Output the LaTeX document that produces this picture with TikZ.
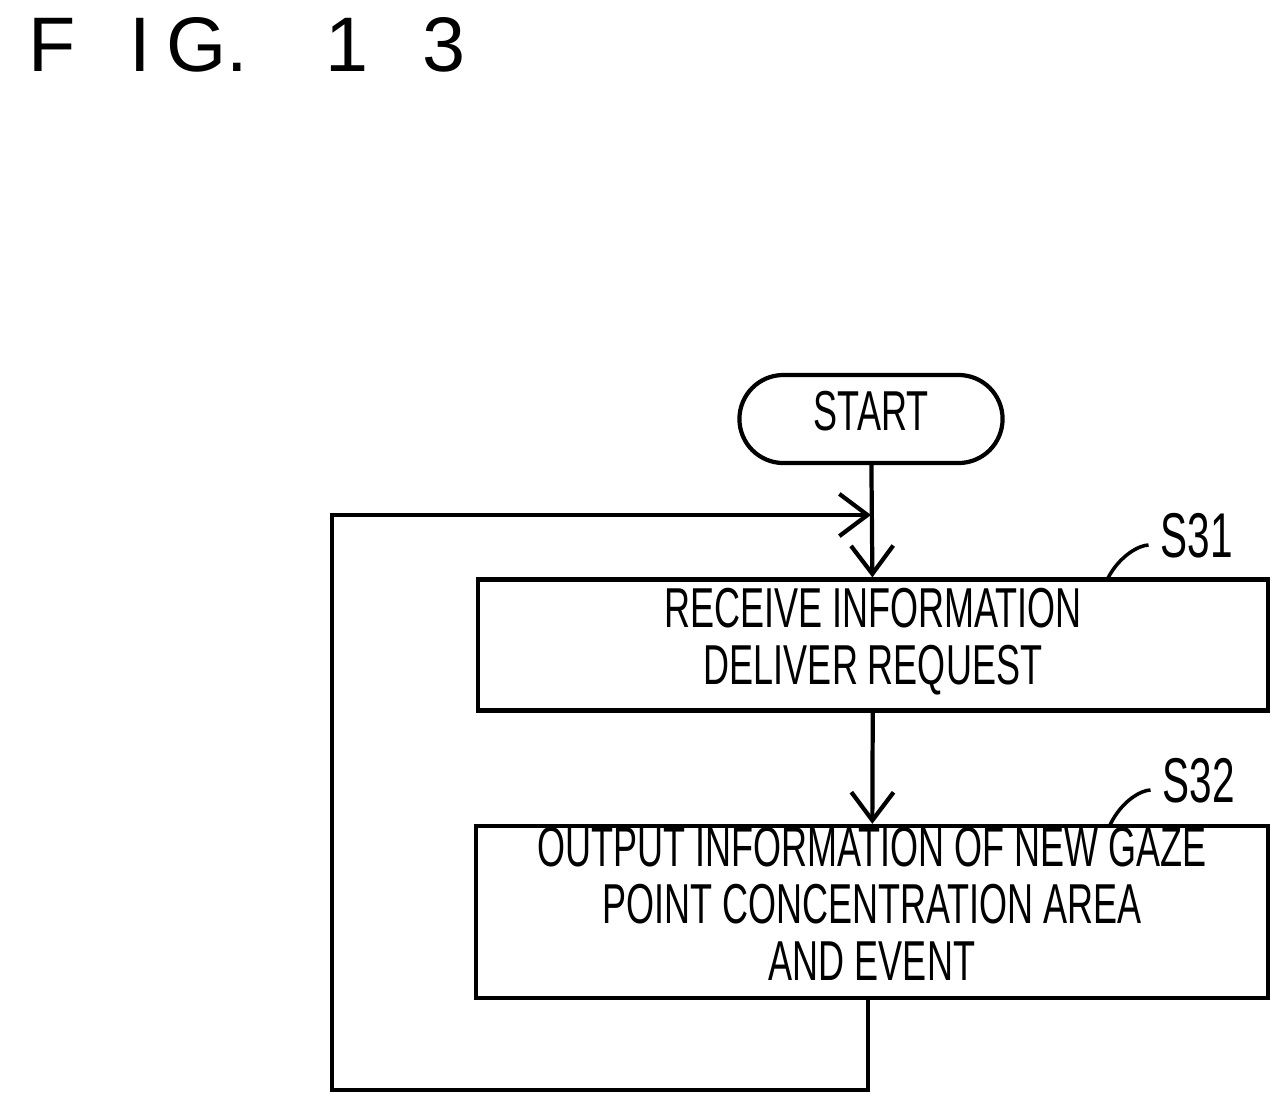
\documentclass[tikz,border=0pt]{standalone}
\usepackage{fontspec}
\setmainfont{Liberation Sans}
\usepackage{graphicx}
\usetikzlibrary{arrows.meta,positioning}
\newcommand{\cond}[1]{\scalebox{0.64}[1]{\renewcommand{\arraystretch}{0.85}\begin{tabular}{@{}c@{}}#1\end{tabular}}}
\tikzset{
  procbox/.style={draw,line width=1.2pt,inner sep=0pt,minimum height=1.31cm,minimum width=7.9cm,align=center,font=\fontsize{16}{19}\selectfont},
  term/.style={draw,line width=1.2pt,inner sep=0pt,rounded corners=0.44cm,minimum width=2.63cm,minimum height=0.88cm,font=\fontsize{16}{19}\selectfont},
  flow/.style={line width=1.2pt,-{Straight Barb[length=8pt,width=12pt]}},
  tag/.style={font=\fontsize{18}{21}\selectfont}
}
\begin{document}
\begin{tikzpicture}[x=0.01cm,y=-0.01cm]
    \useasboundingbox (0,0) rectangle (1284,1114);
    \node[anchor=west,font=\fontsize{22}{24}\selectfont] (fig) at (16,45) {F\hspace{0.7em}I\hspace{0.2em}G.\hspace{1em}1\hspace{0.7em}3};
    \node[term] (start) at (871,419) {\cond{START}};
    \node[procbox] (recv) at (873,645) {\cond{RECEIVE INFORMATION\\DELIVER REQUEST}};
    \node[procbox,minimum height=1.72cm,minimum width=7.92cm] (out) at (872,912) {\cond{OUTPUT INFORMATION OF NEW GAZE\\POINT CONCENTRATION AREA\\AND EVENT}};
    %step labels
    \node[tag] (s31) at (1197,545) {\cond{S31}};
    \node[tag] (s32) at (1199,790) {\cond{S32}};
    \draw[line width=1pt] (1108,578) .. controls (1120,555) and (1140,545) .. (s31.west);
    \draw[line width=1pt] (1110,825) .. controls (1122,800) and (1142,790) .. (s32.west);
    %flow
    \coordinate (join) at (871,515);
    \draw[flow] (start) -- (recv);
    \draw[flow] (recv) -- (out);
    %loop back
    \coordinate (back) at (868,1090);
    \draw[flow] (out.south -| back) -- (back) -- (332,1090) -- (332,515) -- (join);
\end{tikzpicture}
\end{document}
